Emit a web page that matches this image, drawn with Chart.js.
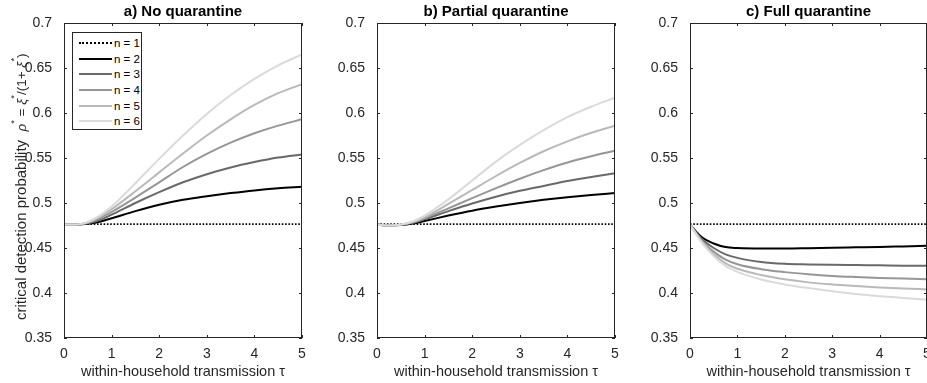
<!DOCTYPE html>
<html>
<head>
<meta charset="utf-8">
<script src="https://cdn.jsdelivr.net/npm/chart.js@4.4.1/dist/chart.umd.min.js"></script>
<style>
  html, body { margin: 0; padding: 0; background: #fff; overflow: hidden; }
  body { width: 927px; height: 383px; position: relative; }
  .panel { position: absolute; top: 0; width: 312px; height: 383px; }
  #legend {
    position: absolute; left: 72px; top: 32px; width: 70px; height: 98px;
    box-sizing: border-box; border: 1px solid #262626; background: #fff;
    padding-top: 2px; font: 11.5px 'Liberation Sans', Arial, sans-serif; color: #000;
  }
  #legend .row { height: 15.7px; display: flex; align-items: center; }
  #legend .swatch { width: 33px; margin-left: 6px; margin-right: 2px; }
</style>
</head>
<body>
<div class="panel" style="left:0px"><canvas id="chartA" width="312" height="383"></canvas></div>
<div class="panel" style="left:313px"><canvas id="chartB" width="312" height="383"></canvas></div>
<div class="panel" style="left:626px"><canvas id="chartC" width="312" height="383"></canvas></div>
<div id="legend"></div>
<script>
// within-household transmission tau
const tau = [0, 0.25, 0.5, 0.75, 1, 1.5, 2, 2.5, 3, 3.5, 4, 4.5, 5];
const household_sizes = ["n = 1", "n = 2", "n = 3", "n = 4", "n = 5", "n = 6"];
const panel_titles = ["a) No quarantine", "b) Partial quarantine", "c) Full quarantine"];
const x_ticks = [0, 1, 2, 3, 4, 5];
const y_ticks = [0.35, 0.4, 0.45, 0.5, 0.55, 0.6, 0.65, 0.7];

// n = 1 is flat, same in every panel
const single = [0.4765, 0.4765, 0.4765, 0.4765, 0.4765, 0.4765, 0.4765, 0.4765, 0.4765, 0.4765, 0.4765, 0.4765, 0.4765];

// a) no quarantine
const no_q2 = [0.476, 0.476, 0.4768, 0.4792, 0.483, 0.491, 0.498, 0.5035, 0.5075, 0.511, 0.514, 0.5163, 0.518];
const no_q3 = [0.476, 0.476, 0.4775, 0.481, 0.487, 0.500, 0.512, 0.523, 0.532, 0.5395, 0.5455, 0.5505, 0.554];
const no_q4 = [0.476, 0.476, 0.478, 0.483, 0.490, 0.506, 0.523, 0.540, 0.5545, 0.567, 0.5775, 0.586, 0.593];
const no_q5 = [0.476, 0.476, 0.4785, 0.4845, 0.493, 0.513, 0.534, 0.555, 0.575, 0.593, 0.609, 0.622, 0.632];
const no_q6 = [0.476, 0.476, 0.479, 0.486, 0.496, 0.522, 0.549, 0.575, 0.599, 0.620, 0.638, 0.653, 0.665];

// b) partial quarantine
const part_q2 = [0.476, 0.475, 0.4755, 0.4772, 0.480, 0.486, 0.4915, 0.496, 0.500, 0.5035, 0.5065, 0.509, 0.511];
const part_q3 = [0.476, 0.475, 0.4757, 0.478, 0.482, 0.491, 0.4995, 0.507, 0.5135, 0.519, 0.5245, 0.529, 0.533];
const part_q4 = [0.476, 0.475, 0.4758, 0.4785, 0.483, 0.494, 0.5055, 0.5165, 0.527, 0.5365, 0.545, 0.552, 0.558];
const part_q5 = [0.476, 0.475, 0.476, 0.479, 0.484, 0.499, 0.5145, 0.530, 0.5445, 0.5575, 0.5685, 0.578, 0.586];
const part_q6 = [0.476, 0.475, 0.476, 0.4795, 0.486, 0.504, 0.525, 0.546, 0.5645, 0.581, 0.5955, 0.607, 0.617];

// c) full quarantine
const full_q2 = [0.476, 0.462, 0.455, 0.451, 0.4500, 0.4495, 0.4495, 0.4498, 0.4502, 0.4507, 0.4512, 0.4518, 0.4524];
const full_q3 = [0.476, 0.460, 0.450, 0.443, 0.439, 0.4345, 0.4325, 0.4318, 0.4313, 0.4310, 0.4307, 0.4304, 0.4302];
const full_q4 = [0.476, 0.458, 0.446, 0.437, 0.432, 0.4265, 0.4232, 0.4208, 0.419, 0.4178, 0.4168, 0.416, 0.4154];
const full_q5 = [0.476, 0.457, 0.443, 0.433, 0.427, 0.420, 0.4152, 0.4118, 0.4095, 0.4077, 0.4062, 0.405, 0.404];
const full_q6 = [0.476, 0.456, 0.441, 0.430, 0.4235, 0.415, 0.4095, 0.4055, 0.402, 0.399, 0.3965, 0.3945, 0.3925];

const font_family = "'Liberation Sans', Arial, Helvetica, sans-serif";
const axis_color = "#262626";
const line_colors = ["#000000", "#000000", "#696969", "#969696", "#b9b9b9", "#dadada"];

// box with inward ticks on all four sides, matlab style
const frame_plugin = {
  id: "frame",
  afterDraw(chart) {
    const {ctx, chartArea: a, scales: {x, y}} = chart;
    const tl = 3;
    ctx.save();
    ctx.strokeStyle = axis_color;
    ctx.lineWidth = 1;
    ctx.beginPath();
    x_ticks.forEach(v => {
      const px = Math.round(x.getPixelForValue(v)) + 0.5;
      ctx.moveTo(px, a.bottom); ctx.lineTo(px, a.bottom - tl);
      ctx.moveTo(px, a.top); ctx.lineTo(px, a.top + tl);
    });
    y_ticks.forEach(v => {
      const py = Math.round(y.getPixelForValue(v)) + 0.5;
      ctx.moveTo(a.left, py); ctx.lineTo(a.left + tl, py);
      ctx.moveTo(a.right, py); ctx.lineTo(a.right - tl, py);
    });
    ctx.stroke();
    ctx.strokeRect(a.left + 0.5, a.top + 0.5, a.width - 1, a.height - 1);
    ctx.restore();
  }
};

// y label with superscript stars, only on the first panel
const rho_label_plugin = {
  id: "rhoLabel",
  afterDraw(chart) {
    const {ctx} = chart;
    // size 0 = text, 1 = math, 2 = superscript
    const parts = [
      {t: "critical detection probability  ", k: 0},
      {t: "ρ", k: 1, i: true},
      {t: "*", k: 2},
      {t: " = ", k: 1},
      {t: "ξ", k: 1, i: true},
      {t: "*", k: 2},
      {t: "/(1+ ", k: 1},
      {t: "ξ", k: 1, i: true},
      {t: "*", k: 2},
      {t: ")", k: 1},
    ];
    const sizes = [15, 13.5, 9.5];
    const fontOf = p => (p.i ? "italic " : "") + sizes[p.k] + "px " + font_family;
    ctx.save();
    ctx.translate(22, 320);
    ctx.rotate(-Math.PI / 2);
    ctx.fillStyle = axis_color;
    ctx.textBaseline = "middle";
    let cx = 0;
    parts.forEach(p => {
      ctx.font = fontOf(p);
      ctx.fillText(p.t, cx, p.k === 2 ? -8 : 0);
      cx += ctx.measureText(p.t).width;
    });
    ctx.restore();
  }
};

function make_datasets(series) {
  return series.map((values, i) => ({
    label: household_sizes[i],
    data: values.map((v, k) => ({x: tau[k], y: v})),
    borderColor: line_colors[i],
    backgroundColor: line_colors[i],
    borderWidth: i === 0 ? 1.8 : 2,
    borderDash: i === 0 ? [1.6, 1.7] : [],
    pointRadius: 0,
    fill: false,
    order: series.length - 1 - i,
  }));
}

function make_chart(id, title, series, with_label) {
  return new Chart(document.getElementById(id), {
    type: "line",
    data: {datasets: make_datasets(series)},
    options: {
      responsive: false,
      animation: false,
      layout: {padding: {left: 0, right: id === "chartC" ? 11 : 10, top: 0, bottom: 0}},
      elements: {line: {cubicInterpolationMode: "monotone"}},
      plugins: {
        legend: {display: false},
        tooltip: {enabled: false},
        title: {
          display: true,
          text: title,
          fullSize: false,
          color: "#000",
          font: {family: font_family, size: 15, weight: "bold"},
          padding: {top: 2.7, bottom: 2.3},
        },
      },
      scales: {
        x: {
          type: "linear",
          min: 0,
          max: 5,
          afterBuildTicks: s => { s.ticks = x_ticks.map(v => ({value: v})); },
          afterFit: s => { s.height = 45; },
          grid: {display: false},
          border: {display: false},
          ticks: {color: axis_color, font: {family: font_family, size: 14}, padding: 0, maxRotation: 0},
          title: {
            display: true,
            text: "within-household transmission τ",
            color: axis_color,
            font: {family: font_family, size: 14.5},
            padding: {top: 0, bottom: 2},
          },
        },
        y: {
          type: "linear",
          min: 0.35,
          max: 0.7,
          afterBuildTicks: s => { s.ticks = y_ticks.map(v => ({value: v})); },
          afterFit: s => { s.width = 64; },
          grid: {display: false},
          border: {display: false},
          ticks: {
            color: axis_color,
            font: {family: font_family, size: 14},
            padding: 4,
            callback: v => String(Number(v.toFixed(2))),
          },
        },
      },
    },
    plugins: with_label ? [frame_plugin, rho_label_plugin] : [frame_plugin],
  });
}

const chart_a = make_chart("chartA", panel_titles[0], [single, no_q2, no_q3, no_q4, no_q5, no_q6], true);
make_chart("chartB", panel_titles[1], [single, part_q2, part_q3, part_q4, part_q5, part_q6], false);
make_chart("chartC", panel_titles[2], [single, full_q2, full_q3, full_q4, full_q5, full_q6], false);

// legend box inside panel a, built from its datasets
const legend = document.getElementById("legend");
chart_a.data.datasets.forEach(ds => {
  const row = document.createElement("div");
  row.className = "row";
  const sw = document.createElement("span");
  sw.className = "swatch";
  sw.style.borderTop = (ds.borderDash.length ? "2px dotted " : "2px solid ") + ds.borderColor;
  const txt = document.createElement("span");
  txt.textContent = ds.label;
  row.appendChild(sw);
  row.appendChild(txt);
  legend.appendChild(row);
});
</script>
</body>
</html>
